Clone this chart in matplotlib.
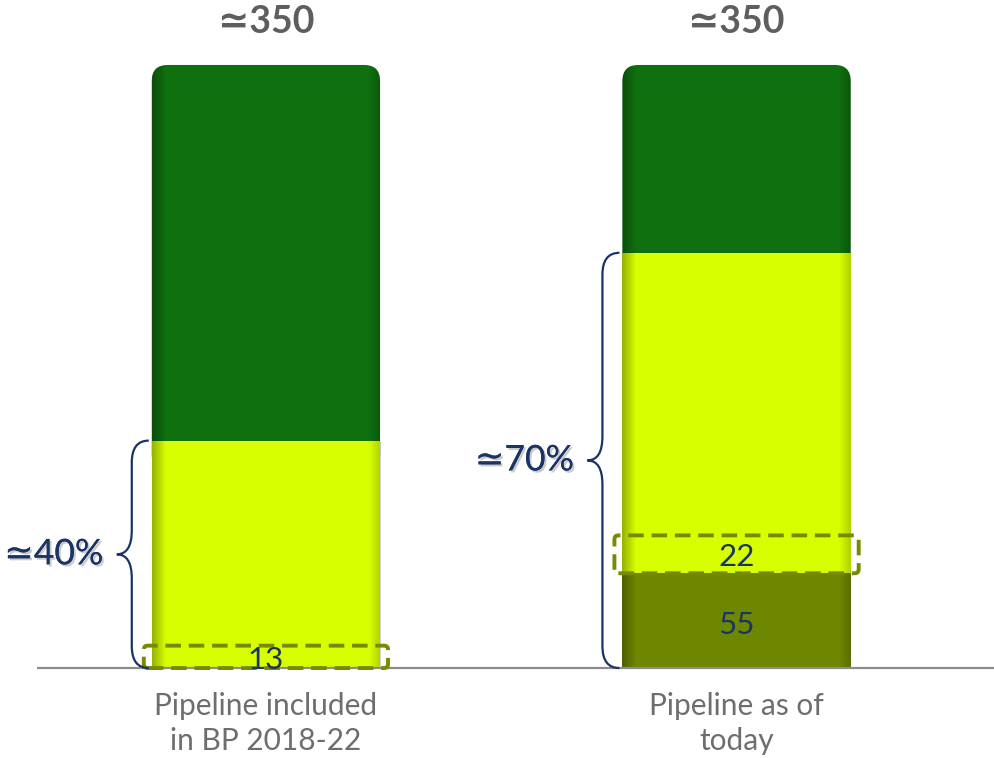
import numpy as np
import matplotlib
matplotlib.use("Agg")
import matplotlib.pyplot as plt
from matplotlib.patches import FancyBboxPatch, PathPatch
from matplotlib.path import Path
import matplotlib.patheffects as pe

# ---- data ----
categories = ["Pipeline included\nin BP 2018-22", "Pipeline as of\ntoday"]
olive_vals = np.array([0, 55])
boxed_vals = np.array([13, 22])
yellow_rest = np.array([119, 164])
green_vals = np.array([218, 109])
total_labels = ["\u2243350", "\u2243350"]
pct_labels = ["\u224340%", "\u224370%"]

# ---- style ----
GREEN = "#0F700F"
YELLOW = "#D8FF00"
OLIVE = "#6E8700"
BOX = "#788A00"
NAVY = "#1B3466"
GRAY = "#5E5E5E"
LGRAY = "#6E6E6E"
FONT = ["Lato", "DejaVu Sans"]

fig = plt.figure(figsize=(9.94, 7.58), dpi=100)
ax = fig.add_axes([0, 0, 1, 1])
XLIM = (-0.565, 1.547)
YLIM = (-52.2, 387.7)
ax.set_xlim(*XLIM)
ax.set_ylim(*YLIM)
ax.axis("off")

x = np.arange(len(categories))
width = 0.485

b_olive = ax.bar(x, olive_vals, width, color=OLIVE, zorder=2)
b_box = ax.bar(x, boxed_vals, width, bottom=olive_vals, color=YELLOW, zorder=2)
b_yel = ax.bar(x, yellow_rest, width, bottom=olive_vals + boxed_vals, color=YELLOW, zorder=2)
b_green = ax.bar(x, green_vals, width, bottom=olive_vals + boxed_vals + yellow_rest,
                 color=GREEN, zorder=1)

fig.canvas.draw()
T = ax.transData
px_x = T.transform((1, 0))[0] - T.transform((0, 0))[0]
px_y = T.transform((0, 1))[1] - T.transform((0, 0))[1]
aspect = px_x / px_y

# rounded top for green segments
for r in b_green:
    r.set_visible(False)
    bx, by, bw, bh = r.get_x(), r.get_y(), r.get_width(), r.get_height()
    ext = 30 / px_y
    rs = 16 / px_x
    p = FancyBboxPatch((bx, by - ext), bw, bh + ext,
                       boxstyle=f"round,pad=0,rounding_size={rs}",
                       mutation_aspect=aspect, facecolor=GREEN, edgecolor="none", zorder=1)
    ax.add_patch(p)
    grad = np.zeros((1, 200, 4))
    t = np.linspace(0, 1, 200)
    alpha = 0.30 * np.clip(1 - t / 0.06, 0, 1) + 0.22 * np.clip((t - 0.95) / 0.05, 0, 1)
    grad[0, :, 3] = alpha
    im = ax.imshow(grad, extent=(bx, bx + bw, by - ext, by + bh), aspect="auto",
                   zorder=1.2, interpolation="bilinear")
    im.set_clip_path(p)

for cont in (b_olive, b_box, b_yel):
    for r in cont:
        if r.get_height() <= 0:
            continue
        bx, by, bw, bh = r.get_x(), r.get_y(), r.get_width(), r.get_height()
        grad = np.zeros((1, 200, 4))
        t = np.linspace(0, 1, 200)
        alpha = 0.30 * np.clip(1 - t / 0.06, 0, 1) + 0.18 * np.clip((t - 0.95) / 0.05, 0, 1)
        grad[0, :, 3] = alpha
        im = ax.imshow(grad, extent=(bx, bx + bw, by, by + bh), aspect="auto",
                       zorder=2.2, interpolation="bilinear")
        im.set_clip_path(r)

# dashed boxes around the boxed segments
for r, v in zip(b_box, boxed_vals):
    bx, by, bw, bh = r.get_x(), r.get_y(), r.get_width(), r.get_height()
    padx = 8 / px_x
    p = FancyBboxPatch((bx - padx, by), bw + 2 * padx, bh,
                       boxstyle=f"round,pad=0,rounding_size={4 / px_x}",
                       mutation_aspect=aspect, facecolor="none", edgecolor=BOX,
                       lw=2.8, linestyle=(0, (4, 2)), zorder=4)
    ax.add_patch(p)
    ax.annotate(f"{v}", xy=(r.get_x() + bw / 2, by + bh / 2), xytext=(0, -2),
                textcoords="offset points", ha="center", va="center",
                fontsize=22.5, color=NAVY, family=FONT, zorder=5)

for r, v in zip(b_olive, olive_vals):
    if v > 0:
        ax.annotate(f"{v}", xy=(r.get_x() + r.get_width() / 2, r.get_y() + r.get_height() / 2),
                    xytext=(0, -3), textcoords="offset points",
                    ha="center", va="center", fontsize=22.5, color=NAVY, family=FONT, zorder=5)

# baseline
x0_data = ax.transData.inverted().transform((37, 0))[0]
ax.plot([x0_data, XLIM[1]], [0, 0], color="#8C8C8C", lw=1.6, zorder=3,
        solid_capstyle="butt")

# totals
totals = olive_vals + boxed_vals + yellow_rest + green_vals
for xi, tot, lab in zip(x, totals, total_labels):
    ax.annotate(lab, xy=(xi, tot), xytext=(0, 31), textcoords="offset points",
                ha="center", va="center", fontsize=27, fontweight="bold",
                color=GRAY, family=FONT)

# category labels
for xi, lab in zip(x, categories):
    ax.annotate(lab, xy=(xi, 0), xytext=(0, -40), textcoords="offset points",
                ha="center", va="center", fontsize=21.5, color=LGRAY,
                family=FONT, linespacing=1.3)

# braces and percentage labels
inv = ax.transData.inverted()
yellow_top = olive_vals + boxed_vals + yellow_rest
for r, ytop, lab in zip(b_olive, yellow_top, pct_labels):
    left_px, bot_px = T.transform((r.get_x(), 0))
    top_px = T.transform((r.get_x(), ytop))[1]
    xe = left_px - 3
    xv = xe - 17
    xt = xe - 32
    mid = (top_px + bot_px) / 2
    rr = 22
    rm = 24
    verts = [(xe, top_px), (xv, top_px), (xv, top_px - rr),
             (xv, mid + rm), (xv, mid), (xt, mid),
             (xv, mid), (xv, mid - rm),
             (xv, bot_px + rr), (xv, bot_px), (xe, bot_px)]
    codes = [Path.MOVETO, Path.CURVE3, Path.CURVE3,
             Path.LINETO, Path.CURVE3, Path.CURVE3,
             Path.CURVE3, Path.CURVE3,
             Path.LINETO, Path.CURVE3, Path.CURVE3]
    dverts = inv.transform(verts)
    ax.add_patch(PathPatch(Path(dverts, codes), facecolor="none", edgecolor=NAVY,
                           lw=1.6, zorder=4))
    tip = inv.transform((xt, mid))
    ax.annotate(lab, xy=tip, xytext=(-10, 0), textcoords="offset points",
                ha="right", va="center", fontsize=25.5, color=NAVY, family=FONT,
                path_effects=[pe.withSimplePatchShadow(offset=(1.5, -1.5),
                                                       shadow_rgbFace="#999999", alpha=0.5),
                              pe.Normal()])

ax.set_xlim(*XLIM)
ax.set_ylim(*YLIM)
fig.savefig("out.png", dpi=100)
